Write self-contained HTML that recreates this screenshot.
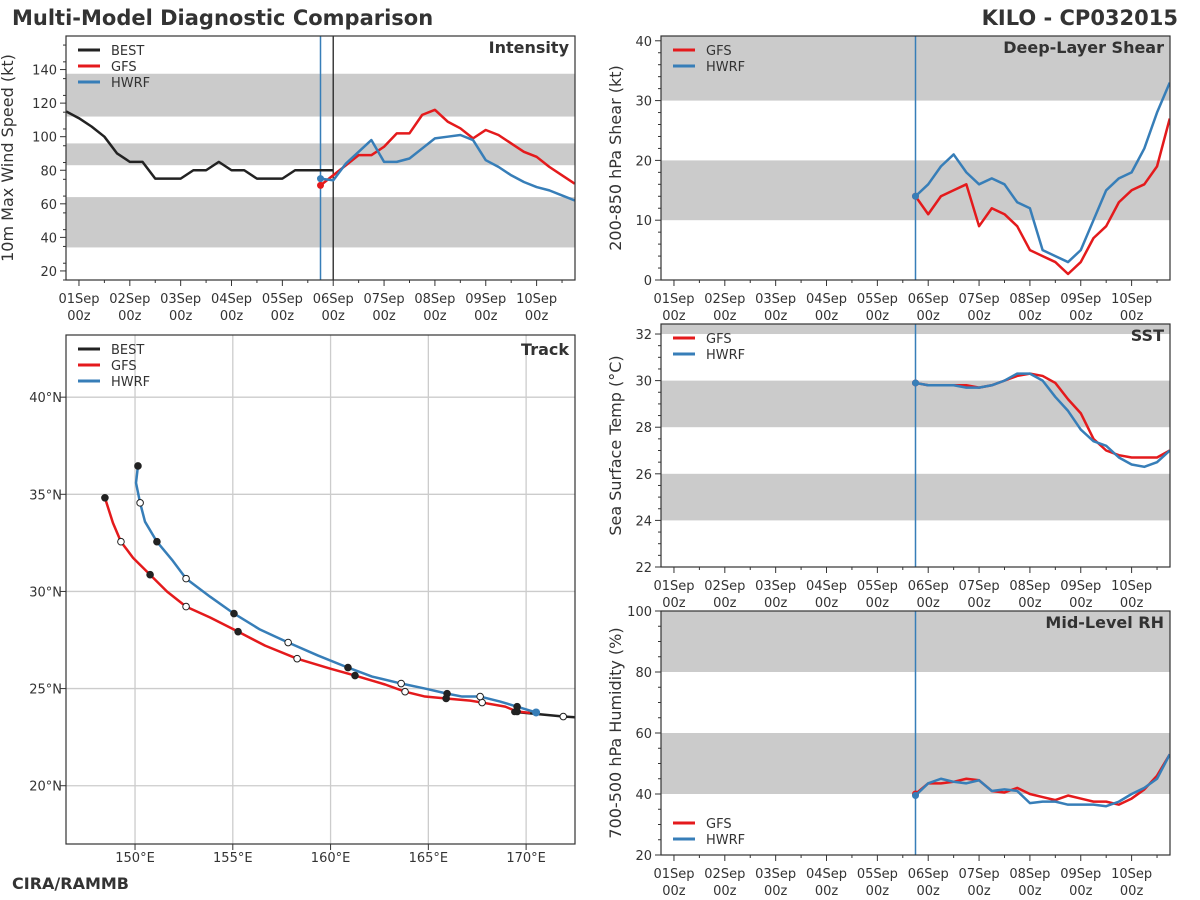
<!DOCTYPE html>
<html><head><meta charset="utf-8"><style>
body{margin:0;background:#fff}
svg{display:block;font-family:"DejaVu Sans","Liberation Sans",sans-serif}
</style></head><body>
<svg id="s" width="1200" height="900" xmlns="http://www.w3.org/2000/svg">
<text x="12" y="25" font-size="21" font-weight="bold" fill="#333">Multi-Model Diagnostic Comparison</text>
<text x="1178" y="25" font-size="21" font-weight="bold" fill="#333" text-anchor="end">KILO - CP032015</text>
<text x="12" y="889" font-size="16" font-weight="bold" fill="#333">CIRA/RAMMB</text>
</svg>
<script>
const days=[4.75,5,5.25,5.5,5.75,6,6.25,6.5,6.75,7,7.25,7.5,7.75,8,8.25,8.5,8.75,9,9.25,9.5,9.75];
const bestDays=[-0.25,0,0.25,0.5,0.75,1,1.25,1.5,1.75,2,2.25,2.5,2.75,3,3.25,3.5,3.75,4,4.25,4.5,4.75,5];
const bestVmax=[115,111,106,100,90,85,85,75,75,75,80,80,85,80,80,75,75,75,80,80,80,80];
const gfsVmax=[71,77,83,89,89,94,102,102,113,116,109,105,99,104,101,96,91,88,82,77,72];
const hwrfVmax=[75,74,84,91,98,85,85,87,93,99,100,101,98,86,82,77,73,70,68,65,62];
const gfsShear=[14,11,14,15,16,9,12,11,9,5,4,3,1,3,7,9,13,15,16,19,27];
const hwrfShear=[14,16,19,21,18,16,17,16,13,12,5,4,3,5,10,15,17,18,22,28,33];
const gfsSST=[29.9,29.8,29.8,29.8,29.8,29.7,29.8,30.0,30.2,30.3,30.2,29.9,29.2,28.6,27.5,27.0,26.8,26.7,26.7,26.7,27.0];
const hwrfSST=[29.9,29.8,29.8,29.8,29.7,29.7,29.8,30.0,30.3,30.3,30.0,29.3,28.7,27.9,27.4,27.2,26.7,26.4,26.3,26.5,27.0];
const gfsRH=[40,43.5,43.5,44,45,44.5,41,40.5,42,40,39,38,39.5,38.5,37.5,37.5,36.5,38.5,41.5,46,53];
const hwrfRH=[39.5,43.5,45,44,43.5,44.5,41,41.5,41,37,37.5,37.5,36.5,36.5,36.5,36,37.5,40,42,45,53];
const dayLabels=["01Sep","02Sep","03Sep","04Sep","05Sep","06Sep","07Sep","08Sep","09Sep","10Sep"];
const bestLon=[173.0,171.9,169.4];
const bestLat=[23.5,23.56,23.8];
const gfsLon=[148.46,148.87,149.28,149.90,150.77,151.64,152.61,153.84,155.27,156.65,158.29,159.97,161.25,162.79,163.81,164.83,165.91,167.14,167.75,168.93,169.54,170.2];
const gfsLat=[34.82,33.53,32.56,31.73,30.86,29.99,29.22,28.66,27.93,27.21,26.54,26.03,25.67,25.21,24.84,24.59,24.49,24.38,24.28,24.07,23.82,23.75];
const hwrfLon=[150.15,150.05,150.26,150.51,151.12,151.89,152.61,153.84,155.06,156.39,157.83,159.36,160.89,162.12,163.61,164.83,165.96,166.73,167.65,168.67,169.54,170.51];
const hwrfLat=[36.46,35.59,34.56,33.59,32.56,31.63,30.66,29.73,28.86,28.04,27.37,26.70,26.08,25.62,25.26,25.00,24.74,24.59,24.59,24.33,24.07,23.77];
const lonTicks=[150,155,160,165,170];
const latTicks=[20,25,30,35,40];

const S=document.getElementById('s');
const NS="http://www.w3.org/2000/svg";
const RED="#e41a1c",BLUE="#377eb8",BLK="#222";
function el(t,a,p){const e=document.createElementNS(NS,t);for(const k in a)e.setAttribute(k,a[k]);(p||S).appendChild(e);return e;}
function txt(x,y,s,a,p){const e=el('text',Object.assign({x:x,y:y,'font-size':13,fill:'#333'},a||{}),p);e.textContent=s;return e;}

function panel(o){
  const g=el('g',{});
  
  
  const X=d=>o.x0+(d-o.d0)*(o.x1-o.x0)/(o.d1-o.d0);
  const Y=v=>o.y1-(v-o.v0)*(o.y1-o.y0)/(o.v1-o.v0);
  for(const b of o.bands){const r=el('rect',{x:o.x0,y:Y(Math.min(b[1],o.v1)),width:o.x1-o.x0,height:Y(b[0])-Y(Math.min(b[1],o.v1)),fill:'#cbcbcb'},g);
    }
  for(const t of o.yt){const y=Y(t);el('line',{x1:o.x0-6,x2:o.x0,y1:y,y2:y,stroke:'#333'},g);
    const tl=txt(o.x0-9,y+5,String(t),{'text-anchor':'end'},g);}
  for(let v=o.v0;v<=o.v1;v+=o.ym){if(o.yt.includes(v))continue;const y=Y(v);if(y<o.y0)continue;el('line',{x1:o.x0-3,x2:o.x0,y1:y,y2:y,stroke:'#333'},g);}
  for(let i=0;i<10;i++){const x=X(i);el('line',{x1:x,x2:x,y1:o.y1,y2:o.y1+6,stroke:'#333'},g);
    const a=txt(x,o.y1+23,dayLabels[i],{'text-anchor':'middle'},g);
    txt(x,o.y1+40,"00z",{'text-anchor':'middle'},g);}
  for(let d=-0.5;d<10;d+=0.5){if(d%1===0)continue;const x=X(d);if(x<o.x0||x>o.x1)continue;el('line',{x1:x,x2:x,y1:o.y1,y2:o.y1+3,stroke:'#333'},g);}
  const yl=txt(0,0,o.ylabel,{'font-size':16,'text-anchor':'middle',transform:`translate(${o.x0-o.yoff},${(o.y0+o.y1)/2}) rotate(-90)`},g);
  
  el('line',{x1:X(4.75),x2:X(4.75),y1:o.y0,y2:o.y1,stroke:BLUE,'stroke-width':1.5},g);
  if(o.best) el('line',{x1:X(5),x2:X(5),y1:o.y0,y2:o.y1,stroke:BLK,'stroke-width':1.3},g);
  const cp=el('clipPath',{id:'c'+o.name},g);el('rect',{x:o.x0,y:o.y0,width:o.x1-o.x0,height:o.y1-o.y0},cp);
  const lg=el('g',{'clip-path':`url(#c${o.name})`},g);
  for(const s of o.series){const pts=s.xs.map((d,i)=>X(d)+','+Y(s.v[i])).join(' ');
    const l=el('polyline',{points:pts,fill:'none',stroke:s.c,'stroke-width':2.5,'stroke-linejoin':'round'},lg);
    
    if(s.dot)el('circle',{cx:X(s.xs[0]),cy:Y(s.v[0]),r:3.5,fill:s.c},lg);}
  el('rect',{x:o.x0,y:o.y0,width:o.x1-o.x0,height:o.y1-o.y0,fill:'none',stroke:'#333','stroke-width':1.2},g);
  const t=txt(o.x1-6,o.y0+17,o.title,{'font-size':16,'font-weight':'bold','text-anchor':'end'},g);
  
  o.legend.forEach((L,i)=>{const y=o.ly+i*16;el('line',{x1:o.x0+12,x2:o.x0+34,y1:y,y2:y,stroke:L[1],'stroke-width':3},g);
    const lt=txt(o.x0+45,y+5,L[0],{},g);});
}
const L3=[["BEST",BLK],["GFS",RED],["HWRF",BLUE]],L2=[["GFS",RED],["HWRF",BLUE]];
panel({name:'intensity-panel',x0:66,x1:575,y0:36,y1:280,d0:-0.255,d1:9.755,v0:14.6,v1:160,yt:[20,40,60,80,100,120,140],ym:10,yoff:53,
  bands:[[34,64],[83,96],[112,137.5]],ylabel:'10m Max Wind Speed (kt)',title:'Intensity',best:true,ly:50,legend:L3,
  series:[{n:'best',xs:bestDays,v:bestVmax,c:BLK},{n:'gfs',xs:days,v:gfsVmax,c:RED,dot:1},{n:'hwrf',xs:days,v:hwrfVmax,c:BLUE,dot:1}]});
panel({name:'shear-panel',x0:661,x1:1170,y0:36,y1:280,d0:-0.255,d1:9.755,v0:0,v1:40.8,yt:[0,10,20,30,40],ym:2,yoff:40,
  bands:[[10,20],[30,41]],ylabel:'200-850 hPa Shear (kt)',title:'Deep-Layer Shear',ly:50,legend:L2,
  series:[{n:'gfs',xs:days,v:gfsShear,c:RED,dot:1},{n:'hwrf',xs:days,v:hwrfShear,c:BLUE,dot:1}]});
panel({name:'sst-panel',x0:661,x1:1170,y0:324,y1:567,d0:-0.255,d1:9.755,v0:22,v1:32.43,yt:[22,24,26,28,30,32],ym:0.5,yoff:40,
  bands:[[24,26],[28,30],[32,33]],ylabel:'Sea Surface Temp (°C)',title:'SST',ly:338,legend:L2,
  series:[{n:'gfs',xs:days,v:gfsSST,c:RED,dot:1},{n:'hwrf',xs:days,v:hwrfSST,c:BLUE,dot:1}]});
panel({name:'rh-panel',x0:661,x1:1170,y0:611,y1:855,d0:-0.255,d1:9.755,v0:20,v1:100,yt:[20,40,60,80,100],ym:5,yoff:40,
  bands:[[40,60],[80,100]],ylabel:'700-500 hPa Humidity (%)',title:'Mid-Level RH',ly:823,legend:L2,
  series:[{n:'gfs',xs:days,v:gfsRH,c:RED,dot:1},{n:'hwrf',xs:days,v:hwrfRH,c:BLUE,dot:1}]});

(function(){
  const x0=66,x1=575,y0=335,y1=844,lo0=146.47,lo1=172.5,la0=17.0,la1=43.2;
  const X=v=>x0+(v-lo0)*(x1-x0)/(lo1-lo0),Y=v=>y1-(v-la0)*(y1-y0)/(la1-la0);
  const g=el('g',{});
  
  
  for(const t of lonTicks){const x=X(t);el('line',{x1:x,x2:x,y1:y0,y2:y1,stroke:'#ccc','stroke-width':1.3},g);
    el('line',{x1:x,x2:x,y1:y1,y2:y1+6,stroke:'#333'},g);
    const a=txt(x,y1+18,t+'°E',{'text-anchor':'middle'},g);}
  for(const t of latTicks){const y=Y(t);el('line',{x1:x0,x2:x1,y1:y,y2:y,stroke:'#ccc','stroke-width':1.3},g);
    el('line',{x1:x0-6,x2:x0,y1:y,y2:y,stroke:'#333'},g);
    const a=txt(x0-4,y+5,t+'°N',{'text-anchor':'end'},g);}
  const cp=el('clipPath',{id:'ctrack'},g);el('rect',{x:x0,y:y0,width:x1-x0,height:y1-y0},cp);
  const lg=el('g',{'clip-path':'url(#ctrack)'},g);
  const tracks=[['best',bestLon,bestLat,BLK],['gfs',gfsLon,gfsLat,RED],['hwrf',hwrfLon,hwrfLat,BLUE]];
  for(const [n,lo,la,c] of tracks){
    const l=el('polyline',{points:lo.map((v,i)=>X(v)+','+Y(la[i])).join(' '),fill:'none',stroke:c,'stroke-width':2.5,'stroke-linejoin':'round'},lg);
    
  }
  for(const [n,lo,la,c] of tracks.slice(1)){
    for(let i=0;i<lo.length-1;i+=2){const m=el('circle',{cx:X(lo[i]),cy:Y(la[i]),r:3.3,fill:(i/2)%2?'#fff':BLK,stroke:BLK,'stroke-width':1},lg);
      }
  }
  el('circle',{cx:X(hwrfLon[hwrfLon.length-1]),cy:Y(hwrfLat[hwrfLat.length-1]),r:4,fill:BLUE},lg);
  el('circle',{cx:X(bestLon[1]),cy:Y(bestLat[1]),r:3.3,fill:'#fff',stroke:BLK},lg);
  el('circle',{cx:X(bestLon[2]),cy:Y(bestLat[2]),r:3.3,fill:BLK},lg);
  el('rect',{x:x0,y:y0,width:x1-x0,height:y1-y0,fill:'none',stroke:'#333','stroke-width':1.2},g);
  const t=txt(x1-6,y0+20,'Track',{'font-size':16,'font-weight':'bold','text-anchor':'end'},g);
  
  L3.forEach((L,i)=>{const y=349+i*16;el('line',{x1:x0+12,x2:x0+34,y1:y,y2:y,stroke:L[1],'stroke-width':3},g);
    const lt=txt(x0+45,y+5,L[0],{},g);});
})();
</script>
</body></html>
